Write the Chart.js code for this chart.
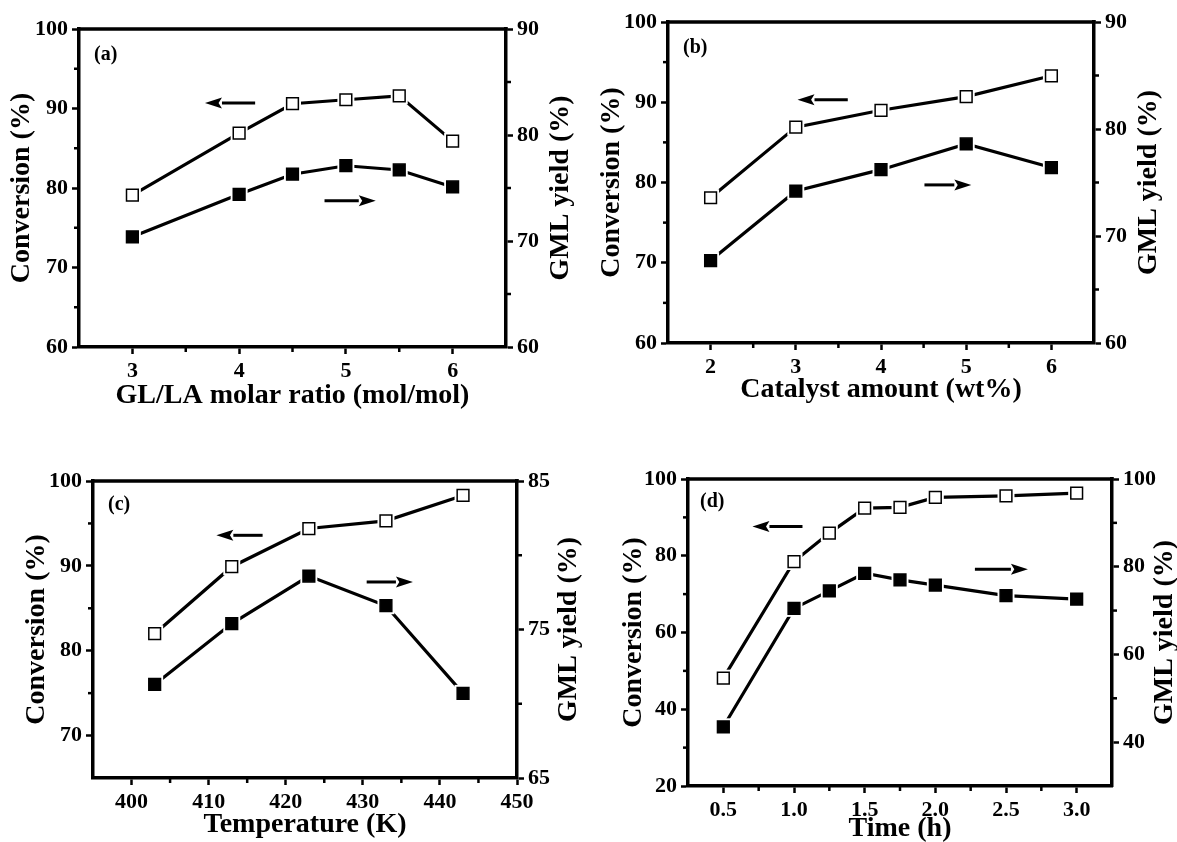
<!DOCTYPE html>
<html><head><meta charset="utf-8">
<script src="https://cdn.jsdelivr.net/npm/chart.js@4.4.1/dist/chart.umd.min.js"></script>
<style>
html,body{margin:0;padding:0;background:#fff;overflow:hidden;width:1177px;height:842px;}
canvas{position:absolute;}
</style></head><body>
<canvas id="ca" width="580" height="420" style="left:0;top:0"></canvas>
<canvas id="cb" width="597" height="420" style="left:580px;top:0"></canvas>
<canvas id="cc" width="590" height="422" style="left:0;top:420px"></canvas>
<canvas id="cd" width="600" height="425" style="left:580px;top:420px"></canvas>
<script>
// ---- data ----
// (a) GL/LA molar ratio
const ratioA = [3, 4, 4.5, 5, 5.5, 6];
const convA  = [79.1, 86.9, 90.6, 91.1, 91.6, 85.9];
const yieldA = [70.4, 74.4, 76.3, 77.1, 76.7, 75.1];
// (b) Catalyst amount
const catB   = [2, 3, 4, 5, 6];
const convB  = [78.1, 86.9, 89.0, 90.7, 93.3];
const yieldB = [67.7, 74.2, 76.2, 78.6, 76.4];
// (c) Temperature
const tempC  = [403, 413, 423, 433, 443];
const convC  = [82.0, 89.9, 94.4, 95.3, 98.3];
const yieldC = [71.3, 75.4, 78.6, 76.6, 70.7];
// (d) Time
const timeD  = [0.5, 1.0, 1.25, 1.5, 1.75, 2.0, 2.5, 3.0];
const convD  = [48.1, 78.5, 85.9, 92.4, 92.6, 95.2, 95.6, 96.3];
const yieldD = [43.5, 70.5, 74.5, 78.5, 77.0, 75.8, 73.4, 72.6];

// tick labels
const xTicksA = [3, 4, 5, 6],            yTicksA = [60, 70, 80, 90, 100], y2TicksA = [60, 70, 80, 90];
const xTicksB = [2, 3, 4, 5, 6],         yTicksB = [60, 70, 80, 90, 100], y2TicksB = [60, 70, 80, 90];
const xTicksC = [400, 410, 420, 430, 440, 450], yTicksC = [70, 80, 90, 100], y2TicksC = [65, 75, 85];
const xTicksD = [0.5, 1.0, 1.5, 2.0, 2.5, 3.0], yTicksD = [20, 40, 60, 80, 100], y2TicksD = [40, 60, 80, 100];

const FONT = "'Liberation Serif', 'Times New Roman', serif";
const tickFont  = {family: FONT, size: 22, weight: 'bold'};
const titleFont = {family: FONT, size: 28, weight: 'bold', lineHeight: 1};
const FRAME = 3.5;

const extras = {
  id: 'extras',
  afterDraw(chart, args, o) {
    const {ctx, chartArea: a, scales} = chart;
    ctx.save();
    ctx.strokeStyle = '#000'; ctx.fillStyle = '#000';
    // top frame
    ctx.lineWidth = FRAME;
    ctx.beginPath(); ctx.moveTo(a.left - FRAME / 2, a.top); ctx.lineTo(a.right + FRAME / 2, a.top); ctx.stroke();
    // minor ticks
    ctx.lineWidth = 2.5;
    o.minorX.forEach(v => { const p = scales.x.getPixelForValue(v); ctx.beginPath(); ctx.moveTo(p, a.bottom); ctx.lineTo(p, a.bottom + 5); ctx.stroke(); });
    o.minorY.forEach(v => { const p = scales.y.getPixelForValue(v); ctx.beginPath(); ctx.moveTo(a.left, p); ctx.lineTo(a.left - 5, p); ctx.stroke(); });
    o.minorY2.forEach(v => { const p = scales.y2.getPixelForValue(v); ctx.beginPath(); ctx.moveTo(a.right, p); ctx.lineTo(a.right + 5, p); ctx.stroke(); });
    // arrows
    o.arrows.forEach(ar => {
      const x1 = scales.x.getPixelForValue(ar.x1), x2 = scales.x.getPixelForValue(ar.x2), y = scales.y.getPixelForValue(ar.v);
      const dir = Math.sign(x2 - x1), hl = 17, hw = 5.5;
      ctx.lineWidth = 3;
      ctx.beginPath(); ctx.moveTo(x1, y); ctx.lineTo(x2 - dir * hl, y); ctx.stroke();
      ctx.beginPath(); ctx.moveTo(x2, y); ctx.lineTo(x2 - dir * hl, y - hw); ctx.lineTo(x2 - dir * hl * 0.8, y); ctx.lineTo(x2 - dir * hl, y + hw); ctx.closePath(); ctx.fill();
    });
    // right axis title (reads bottom-to-top, like the left one)
    ctx.save();
    ctx.translate(a.right + o.y2TitleDx, (a.top + a.bottom) / 2);
    ctx.rotate(-Math.PI / 2);
    ctx.font = 'bold 28px ' + FONT;
    ctx.textAlign = 'center'; ctx.textBaseline = 'middle';
    ctx.fillText(o.y2Title, 0, 0);
    ctx.restore();
    // panel label
    ctx.font = 'bold 20px ' + FONT;
    ctx.textAlign = 'left'; ctx.textBaseline = 'middle';
    ctx.fillText(o.label, a.left + o.labelDx, a.top + o.labelDy);
    ctx.restore();
  }
};

function axisBase(ticksArr, fmt) {
  return {
    afterBuildTicks: s => { s.ticks = ticksArr.map(v => ({value: v})); },
    ticks: {font: tickFont, color: '#000', padding: 4, maxRotation: 0, autoSkip: false, callback: fmt},
    grid: {display: true, drawOnChartArea: false, drawTicks: true, tickLength: 7, tickWidth: 2.5, tickColor: '#000'},
    border: {display: true, color: '#000', width: FRAME}
  };
}

function makePanel(id, c) {
  const pts = ys => c.x.map((x, i) => ({x: x, y: ys[i]}));
  const conv = pts(c.conv), yld = pts(c.yield);
  const lineDs = (data, ax) => ({data, yAxisID: ax, borderColor: '#000', borderWidth: 3.2, pointRadius: 0, showLine: true, fill: false, tension: 0, order: 3});
  const haloDs = (data, ax) => ({data, yAxisID: ax, showLine: false, pointStyle: 'rect', pointRadius: 12, pointBackgroundColor: '#fff', pointBorderWidth: 0, order: 2});
  const markDs = (data, ax, filled) => ({data, yAxisID: ax, showLine: false, pointStyle: 'rect', pointRadius: 8.3, pointBackgroundColor: filled ? '#000' : '#fff', pointBorderColor: '#000', pointBorderWidth: 1.5, order: 1});
  const fmt = c.fmt || (v => String(v));
  const x = Object.assign(axisBase(c.xTicks, fmt), {type: 'linear', position: 'bottom', min: c.xMin, max: c.xMax,
    afterFit: s => { s.height = c.xH; },
    title: {display: true, text: c.xTitle, font: titleFont, color: '#000', padding: {top: 0, bottom: c.xTP}}});
  const y = Object.assign(axisBase(c.yTicks, v => String(v)), {type: 'linear', position: 'left', min: c.yMin, max: c.yMax,
    afterFit: s => { s.width = c.yW; },
    title: {display: true, text: 'Conversion (%)', font: titleFont, color: '#000', padding: {top: c.yTP, bottom: 0}}});
  const y2 = Object.assign(axisBase(c.y2Ticks, v => String(v)), {type: 'linear', position: 'right', min: c.y2Min, max: c.y2Max,
    afterFit: s => { s.width = c.y2W; },
    title: {display: false}});
  new Chart(document.getElementById(id), {
    type: 'scatter',
    data: {datasets: [lineDs(conv, 'y'), lineDs(yld, 'y2'), haloDs(conv, 'y'), haloDs(yld, 'y2'), markDs(conv, 'y', false), markDs(yld, 'y2', true)]},
    options: {
      responsive: false, animation: false, events: [],
      layout: {padding: {top: c.top, left: 0, right: 0, bottom: 0}},
      plugins: {legend: {display: false}, tooltip: {enabled: false},
        extras: {minorX: c.minorX, minorY: c.minorY, minorY2: c.minorY2, arrows: c.arrows, label: c.label, labelDx: c.labelDx, labelDy: c.labelDy,
                 y2Title: 'GML yield (%)', y2TitleDx: c.y2TitleDx}},
      scales: {x, y, y2}
    },
    plugins: [extras]
  });
}

makePanel('ca', {x: ratioA, conv: convA, yield: yieldA, xTicks: xTicksA, yTicks: yTicksA, y2Ticks: y2TicksA,
  xMin: 2.5, xMax: 6.5, yMin: 60, yMax: 100, y2Min: 60, y2Max: 90,
  xTitle: 'GL/LA molar ratio (mol/mol)', top: 29, xH: 73, yW: 79, y2W: 74, xTP: 10, yTP: 8, y2TitleDx: 55,
  minorX: [3.5, 4.5, 5.5], minorY: [65, 75, 85, 95], minorY2: [65, 75, 85],
  arrows: [{x1: 4.15, x2: 3.68, v: 90.7}, {x1: 4.80, x2: 5.28, v: 78.4}], label: '(a)', labelDx: 15, labelDy: 26});

makePanel('cb', {x: catB, conv: convB, yield: yieldB, xTicks: xTicksB, yTicks: yTicksB, y2Ticks: y2TicksB,
  xMin: 1.5, xMax: 6.5, yMin: 60, yMax: 100, y2Min: 60, y2Max: 90,
  xTitle: 'Catalyst amount (wt%)', top: 22, xH: 77, yW: 88, y2W: 83, xTP: 16, yTP: 18, y2TitleDx: 55,
  minorX: [2.5, 3.5, 4.5, 5.5], minorY: [65, 75, 85, 95], minorY2: [65, 75, 85],
  arrows: [{x1: 3.61, x2: 3.02, v: 90.3}, {x1: 4.51, x2: 5.06, v: 79.7}], label: '(b)', labelDx: 15, labelDy: 26});

makePanel('cc', {x: tempC, conv: convC, yield: yieldC, xTicks: xTicksC, yTicks: yTicksC, y2Ticks: y2TicksC,
  xMin: 395, xMax: 450, yMin: 65, yMax: 100, y2Min: 65, y2Max: 85,
  xTitle: 'Temperature (K)', top: 61, xH: 64, yW: 93, y2W: 73, xTP: 3, yTP: 23, y2TitleDx: 52,
  minorX: [405, 415, 425, 435, 445], minorY: [75, 85, 95], minorY2: [70, 80],
  arrows: [{x1: 417.0, x2: 411.0, v: 93.6}, {x1: 430.5, x2: 436.5, v: 88.1}], label: '(c)', labelDx: 15, labelDy: 24});

makePanel('cd', {x: timeD, conv: convD, yield: yieldD, xTicks: xTicksD, yTicks: yTicksD, y2Ticks: y2TicksD,
  xMin: 0.25, xMax: 3.25, yMin: 20, yMax: 100, y2Min: 30, y2Max: 100,
  xTitle: 'Time (h)', top: 59, xH: 59, yW: 108, y2W: 68, xTP: 2, yTP: 40, y2TitleDx: 53,
  fmt: v => Number(v).toFixed(1),
  minorX: [0.75, 1.25, 1.75, 2.25, 2.75], minorY: [30, 50, 70, 90], minorY2: [50, 70, 90],
  arrows: [{x1: 1.06, x2: 0.706, v: 87.6}, {x1: 2.28, x2: 2.655, v: 76.5}], label: '(d)', labelDx: 12, labelDy: 23});
</script>
</body></html>
